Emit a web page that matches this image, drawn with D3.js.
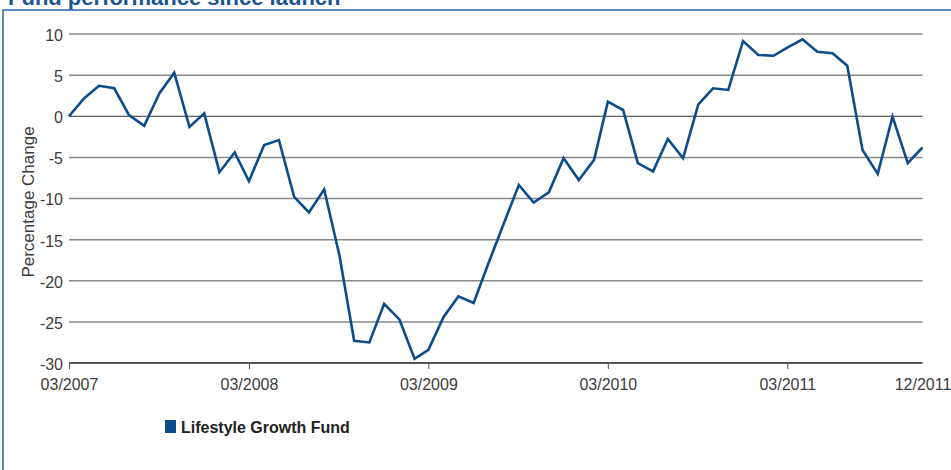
<!DOCTYPE html>
<html><head><meta charset="utf-8">
<script src="https://cdn.jsdelivr.net/npm/d3@7"></script>
<style>
html,body{margin:0;padding:0;background:#fff;overflow:hidden;}
svg{display:block;font-family:"Liberation Sans",Arial,Helvetica,sans-serif;}
</style></head>
<body>
<svg id="c" width="951" height="470"></svg>
<script>
const title = "Fund performance since launch";
const seriesName = "Lifestyle Growth Fund";
const yLabel = "Percentage Change";
const startMonth = "2007-03";
const values = [0, 2.2, 3.7, 3.4, 0.15, -1.15, 2.8, 5.3, -1.3, 0.35,
  -6.8, -4.4, -7.9, -3.5, -2.9, -9.8, -11.7, -8.9, -16.9, -27.3,
  -27.5, -22.8, -24.7, -29.5, -28.4, -24.4, -21.9, -22.7, -17.9, -13.1,
  -8.35, -10.5, -9.25, -5.1, -7.75, -5.3, 1.77, 0.76, -5.7, -6.7,
  -2.75, -5.1, 1.45, 3.4, 3.2, 9.15, 7.45, 7.35, 8.35, 9.35,
  7.85, 7.65, 6.15, -4.1, -7.0, -0.05, -5.7, -3.8];
const yTicks = [10, 5, 0, -5, -10, -15, -20, -25, -30];
const xTickLabels = ["03/2007", "03/2008", "03/2009", "03/2010", "03/2011", "12/2011"];

const parse = d3.timeParse("%m/%Y");
const start = d3.timeParse("%Y-%m")(startMonth);
const data = values.map((v, i) => ({date: d3.timeMonth.offset(start, i), value: v}));

const svg = d3.select("#c");
const blue = "#0d4c8b";
const labelColor = "#3c3c3c";

// frame
svg.append("rect").attr("x", 3).attr("y", 10).attr("width", 960).attr("height", 480)
  .attr("fill", "none").attr("stroke", "#2a66a8").attr("stroke-width", 1.5);

svg.append("text").attr("x", 8).attr("y", 5).attr("fill", "#1b5596")
  .attr("font-size", 22).attr("font-weight", "bold").text(title);

const x = d3.scaleTime().domain([data[0].date, data[data.length - 1].date]).range([69, 922.5]);
const y = d3.scaleLinear().domain([-30, 10]).range([363, 34]);

// gridlines
svg.append("g").selectAll("line").data(yTicks.filter(t => t !== -30)).join("line")
  .attr("x1", 69).attr("x2", 922.5)
  .attr("y1", d => y(d)).attr("y2", d => y(d))
  .attr("stroke", d => d === 0 ? "#333" : "#8a8a8a")
  .attr("stroke-width", d => d === 0 ? 1.2 : 1.5);

// y axis labels
const yAxis = d3.axisLeft(y).tickValues(yTicks).tickSize(0).tickPadding(6).tickFormat(d => String(d));
const gy = svg.append("g").attr("transform", "translate(69,0)").call(yAxis);
gy.select(".domain").remove();
gy.selectAll("text").attr("font-size", 16).attr("fill", labelColor).attr("dy", "0.4em")
  .attr("font-family", "Liberation Sans, Arial, sans-serif");
// tiny left tick at origin
svg.append("line").attr("x1", 69.5).attr("x2", 69.5).attr("y1", 363).attr("y2", 369)
  .attr("stroke", "#555").attr("stroke-width", 1);

// x axis
const xTickDates = xTickLabels.map(parse);
const xAxis = d3.axisBottom(x).tickValues(xTickDates).tickSize(6).tickPadding(10)
  .tickFormat(d3.timeFormat("%m/%Y"));
const gx = svg.append("g").attr("transform", "translate(0,363)").call(xAxis);
gx.select(".domain").attr("stroke", "#555").attr("stroke-width", 2)
  .attr("d", "M69,0H922.5");
gx.selectAll(".tick line").attr("stroke", "#555").attr("stroke-width", 1)
  .filter((d, i) => i === 0 || i === xTickDates.length - 1).remove();
gx.selectAll("text").attr("font-size", 16).attr("fill", labelColor)
  .attr("font-family", "Liberation Sans, Arial, sans-serif");

// y label
svg.append("text").attr("transform", "translate(34,202) rotate(-90)")
  .attr("text-anchor", "middle").attr("font-size", 17).attr("fill", labelColor).text(yLabel);

// line
const line = d3.line().x(d => x(d.date)).y(d => y(d.value));
svg.append("path").datum(data).attr("d", line).attr("fill", "none")
  .attr("stroke", blue).attr("stroke-width", 2.6).attr("stroke-linejoin", "miter");

// legend
svg.append("rect").attr("x", 165).attr("y", 420).attr("width", 11).attr("height", 13).attr("fill", blue);
svg.append("text").attr("x", 181).attr("y", 433).attr("font-size", 16).attr("font-weight", "bold")
  .attr("fill", "#222").text(seriesName);
</script>
</body></html>
